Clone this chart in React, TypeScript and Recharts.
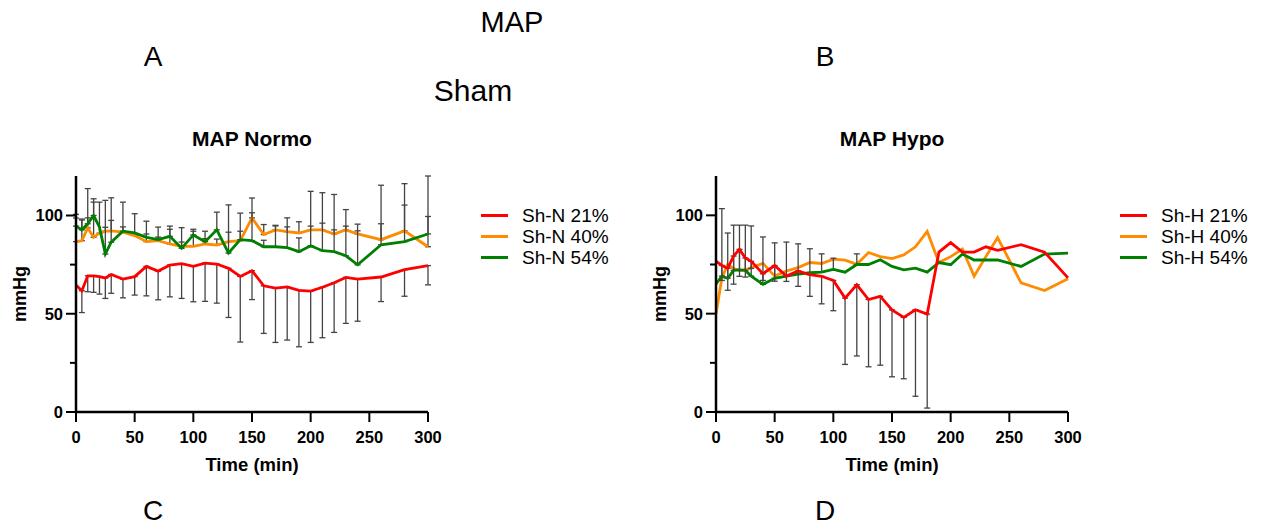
import { ErrorBar, Line, LineChart, XAxis, YAxis } from "recharts";

const FONT = '"Liberation Sans", Arial, sans-serif';

const TIMES = [0, 5, 10, 15, 20, 25, 30, 40, 50, 60, 70, 80, 90, 100, 110, 120, 130, 140, 150, 160, 170, 180, 190, 200, 210, 220, 230, 240, 260, 280, 300];
const X_TICKS = [0, 50, 100, 150, 200, 250, 300];
const Y_TICKS = [0, 25, 50, 75, 100];

const COLORS = { red: "#ff0000", orange: "#ff8c00", green: "#008000" };

// MAP Normo (Sh-N)
const NORMO_21 = [64.6, 61.7, 69.3, 69.3, 68.9, 68.2, 70, 67.6, 68.9, 74.1, 71.7, 74.8, 75.5, 74.1, 75.8, 75.3, 73.1, 69, 71.9, 64.2, 63, 63.7, 61.9, 61.5, 63.5, 65.8, 68.5, 67.6, 68.7, 72.4, 74.5];
const NORMO_21_SD = [null, 11.1, 8.1, 8.4, 8.9, 10.4, 9.6, 9.5, 9.4, 15, 14.6, 16.2, 17.7, 18, 19.5, 19.9, 25, 33.4, 14.7, 24.2, 27.6, 27.1, 28.7, 26.1, 25.7, 25.3, 23.4, 21.4, 12.5, 13.5, 9.8];
const NORMO_40 = [86.7, 87.2, 93.7, 88.9, 91, 92, 92.2, 91.5, 89.8, 86.7, 87.2, 85.5, 84.3, 84.3, 85.5, 85, 86.7, 87.2, 98.8, 90.3, 92.7, 91.8, 91.1, 92.7, 92.7, 90.6, 92.7, 90.6, 87.7, 92.2, 84.1];
const NORMO_40_SD = [12, 11, 20, 19.6, 15.8, 15.7, 16.8, 15.3, 11.1, 10.4, 6.9, 9.1, 2.2, 7.7, 6.5, 3, 4.8, 4.8, 10.1, 5.1, 2.3, 7, 5.7, 19.6, 18.9, 20.1, 10.3, 5, 27.7, 24, 36];
const NORMO_54 = [94.6, 92.7, 95.8, 100, 94.1, 80.4, 86.4, 92, 91.1, 88.9, 87.7, 89.4, 83.3, 90.1, 86.7, 92.7, 80.9, 87.7, 87.2, 84.1, 84.1, 83.6, 81.6, 84.6, 82.1, 81.6, 79.5, 74.9, 85.1, 86.7, 90.6];
const NORMO_54_SD = [6, 5, 3, 6.8, null, 13.6, 11.1, 2.2, null, 1.7, 1.3, 3.6, 10.5, 2.9, 1.5, 9, 24.5, 13.5, 14.2, 3.3, 10.6, 10.6, 7, 10, 14, 11.1, 15.1, 17.3, 10.7, 18.6, 8.9];

// MAP Hypo (Sh-H)
const HYPO_21 = [76.7, 74.5, 73.1, 79.3, 82.7, 78.3, 76.6, 70.3, 74.5, 69.1, 71.7, 69.8, 69, 66.9, 57.9, 64.7, 57.2, 58.8, 51.9, 48.1, 52, 49.8, 81.3, 86.1, 81.3, 81.3, 84, 82.2, 85.1, 81.3, 68.2];
const HYPO_21_SD = [null, 7.6, 11.2, 14.3, 13.7, 9.7, 3.6, 3.4, 8, 2.7, 7.8, 11, 14, 15.4, 33.7, 36.2, 34.2, 35, 34, 31.2, 44, 47.8, null, null, null, null, null, null, null, null, null];
const HYPO_40 = [50, 68, 75, 72.9, 72, 72.2, 73.4, 75.6, 69.1, 71.7, 73.4, 76, 75.5, 77.7, 77.2, 75.1, 81.1, 79, 78, 79.9, 84, 91.8, 76, 79, 82.8, 69.1, 79, 88.7, 65.7, 61.8, 67.8];
const HYPO_40_SD = TIMES.map(() => null);
const HYPO_54 = [65.1, 69.1, 68, 72, 72.3, 72, 69.1, 64.9, 68, 69.1, 70.1, 70.8, 71.1, 72.5, 71.1, 75, 75, 77.4, 74, 72.3, 73.1, 71.1, 76, 74.9, 80.3, 77.3, 77.3, 77.3, 74, 80.3, 80.8];
const HYPO_54_SD = [null, 34.3, 23, 23, 22.7, 23, 25.5, 24.1, 18, 17.3, 15.4, 12.2, 9.3, 5.7, null, 5.4, null, null, null, null, null, null, null, null, null, null, null, null, null, null, null];

const NORMO_LABELS = ["Sh-N 21%", "Sh-N 40%", "Sh-N 54%"];
const HYPO_LABELS = ["Sh-H 21%", "Sh-H 40%", "Sh-H 54%"];

type Sd = (number | null)[];

function buildRows(red: number[], redSd: Sd, orange: number[], orangeSd: Sd, green: number[], greenSd: Sd) {
  return TIMES.map((t, i) => ({
    t,
    red: red[i],
    redErr: redSd[i] == null ? undefined : [redSd[i], 0],
    orange: orange[i],
    orangeErr: orangeSd[i] == null ? undefined : [0, orangeSd[i]],
    green: green[i],
    greenErr: greenSd[i] == null ? undefined : [0, greenSd[i]],
  }));
}

const tickStyle = { fontSize: 16.5, fontWeight: 700, fill: "#000", fontFamily: FONT };
const axisLine = { stroke: "#000", strokeWidth: 2.5 };
const tickLine = { stroke: "#000", strokeWidth: 2 };

// y ticks: long ones with labels every 50, short unlabeled ones in between
function YTick(props: any) {
  const { y, payload } = props;
  const v = payload.value as number;
  const major = v % 50 === 0;
  return (
    <g>
      <line x1={76 - (major ? 10 : 6)} x2={76} y1={y} y2={y} stroke="#000" strokeWidth={2} />
      {major ? (
        <text x={63} y={y} dy="0.355em" textAnchor="end" {...tickStyle}>
          {v}
        </text>
      ) : null}
    </g>
  );
}

function Txt({ cx, cy, size, bold, children }: { cx: number; cy: number; size: number; bold?: boolean; children: string }) {
  return (
    <div
      style={{
        position: "absolute",
        left: cx - 200,
        top: cy - size * 0.6,
        width: 400,
        lineHeight: `${size * 1.2}px`,
        fontSize: size,
        fontWeight: bold ? 700 : 400,
        textAlign: "center",
        whiteSpace: "nowrap",
      }}
    >
      {children}
    </div>
  );
}

function LegendBox({ left, top, labels }: { left: number; top: number; labels: string[] }) {
  const cols = [COLORS.red, COLORS.orange, COLORS.green];
  return (
    <div style={{ position: "absolute", left, top }}>
      {labels.map((l, i) => (
        <div key={l} style={{ display: "flex", alignItems: "center", height: 21, fontSize: 19 }}>
          <span style={{ display: "inline-block", width: 27, height: 2.5, background: cols[i], marginRight: 14 }} />
          <span>{l}</span>
        </div>
      ))}
    </div>
  );
}

function Panel({ left, width, rows }: { left: number; width: number; rows: ReturnType<typeof buildRows> }) {
  const plotRight = left + 76 + 352;
  return (
    <div style={{ position: "absolute", left, top: 120 }}>
      <LineChart width={width} height={360} data={rows} margin={{ top: 56, right: left + width - plotRight, bottom: 18, left: 0 }}>
        <XAxis
          dataKey="t"
          type="number"
          domain={[0, 300]}
          ticks={X_TICKS}
          tick={tickStyle}
          tickSize={10}
          tickMargin={9}
          axisLine={axisLine}
          tickLine={tickLine}
          height={50}
        />
        <YAxis
          type="number"
          domain={[0, 120]}
          ticks={Y_TICKS}
          tick={<YTick />}
          tickLine={false}
          axisLine={axisLine}
          width={76}
        />
        <Line dataKey="orange" stroke={COLORS.orange} strokeWidth={2.8} dot={false} isAnimationActive={false}>
          <ErrorBar dataKey="orangeErr" direction="y" width={3} stroke="#444" strokeWidth={1.3} />
        </Line>
        <Line dataKey="green" stroke={COLORS.green} strokeWidth={2.8} dot={false} isAnimationActive={false}>
          <ErrorBar dataKey="greenErr" direction="y" width={3} stroke="#444" strokeWidth={1.3} />
        </Line>
        <Line dataKey="red" stroke={COLORS.red} strokeWidth={2.8} dot={false} isAnimationActive={false}>
          <ErrorBar dataKey="redErr" direction="y" width={3} stroke="#444" strokeWidth={1.3} />
        </Line>
      </LineChart>
    </div>
  );
}

const yLabelStyle = {
  position: "absolute" as const,
  top: 294 - 12,
  width: 80,
  height: 24,
  lineHeight: "24px",
  fontSize: 18,
  fontWeight: 700,
  textAlign: "center" as const,
  transform: "rotate(-90deg)",
};

export default function App() {
  const normoRows = buildRows(NORMO_21, NORMO_21_SD, NORMO_40, NORMO_40_SD, NORMO_54, NORMO_54_SD);
  const hypoRows = buildRows(HYPO_21, HYPO_21_SD, HYPO_40, HYPO_40_SD, HYPO_54, HYPO_54_SD);
  return (
    <div style={{ position: "absolute", left: 0, top: 0, width: 1262, height: 525, background: "#fff", fontFamily: FONT, color: "#000" }}>
      <Txt cx={512} cy={22} size={29}>MAP</Txt>
      <Txt cx={153} cy={57} size={28}>A</Txt>
      <Txt cx={825} cy={57} size={28}>B</Txt>
      <Txt cx={473} cy={91} size={30}>Sham</Txt>
      <Txt cx={153} cy={511} size={28}>C</Txt>
      <Txt cx={825} cy={511} size={28}>D</Txt>

      <Panel left={0} width={631} rows={normoRows} />
      <Panel left={640} width={622} rows={hypoRows} />

      <Txt cx={252} cy={139} size={21} bold>MAP Normo</Txt>
      <Txt cx={892} cy={139} size={21} bold>MAP Hypo</Txt>
      <Txt cx={252} cy={465} size={18.5} bold>Time (min)</Txt>
      <Txt cx={892} cy={465} size={18.5} bold>Time (min)</Txt>
      <div style={{ ...yLabelStyle, left: 20 - 40 }}>mmHg</div>
      <div style={{ ...yLabelStyle, left: 660 - 40 }}>mmHg</div>

      <LegendBox left={481} top={205} labels={NORMO_LABELS} />
      <LegendBox left={1120} top={205} labels={HYPO_LABELS} />
    </div>
  );
}
